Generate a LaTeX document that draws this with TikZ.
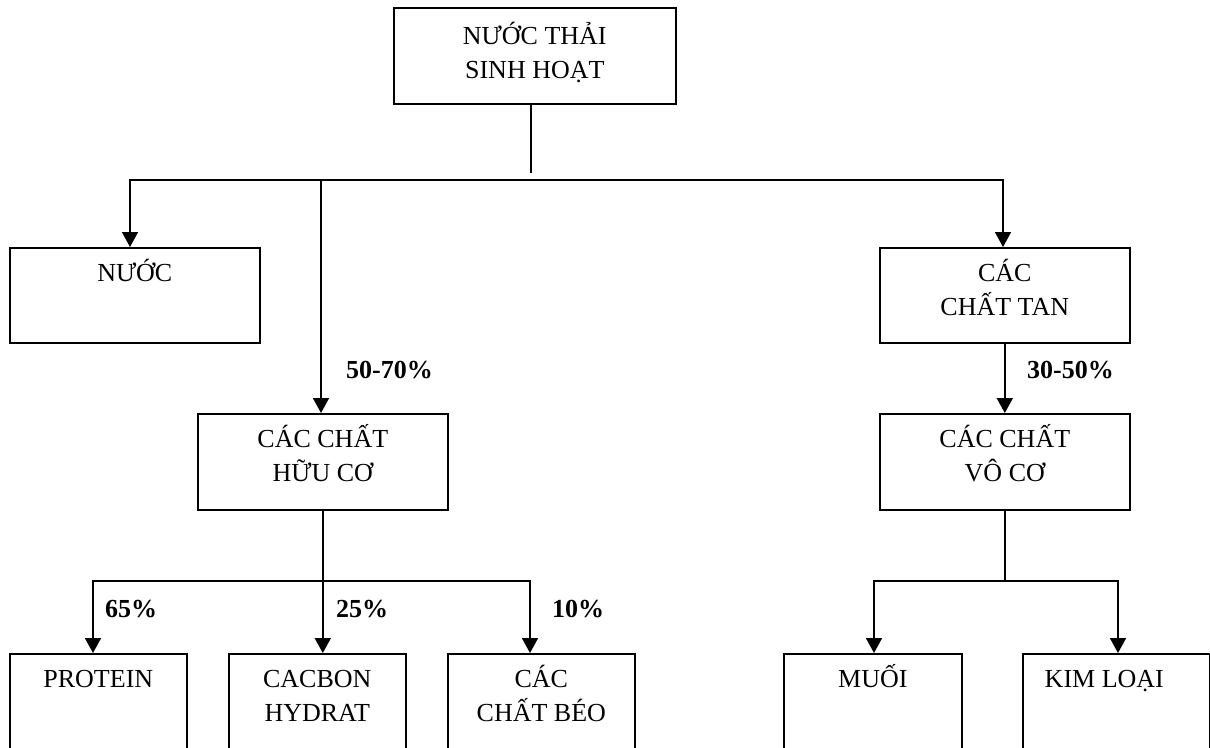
\documentclass[tikz,border=0pt]{standalone}
\usepackage{fontspec}
\setmainfont{Liberation Serif}
\usetikzlibrary{arrows.meta}
% invisible rule that fixes the height of a first text line
\newcommand\capstrut{\rule{0pt}{26pt}}
\begin{document}
\begin{tikzpicture}[x=1pt,y=-1pt,
  box/.style={draw, line width=1.6pt, anchor=north west, inner sep=0pt},
  txt/.style={anchor=north, inner sep=0pt, align=center,
    font=\fontsize{26}{34}\selectfont},
  pct/.style={anchor=base west, inner sep=0pt,
    font=\fontsize{26}{31}\selectfont\bfseries},
  link/.style={line width=1.8pt},
  tip/.style={Triangle[width=16pt,length=15pt]},
  arr/.style={line width=1.8pt, -{Triangle[width=16pt,length=15pt]}},
  arrs/.style={line width=1.8pt, {Triangle[width=16pt,length=15pt]}-{Triangle[width=16pt,length=15pt]}},
]
\useasboundingbox (0,0) rectangle (1210,747);
\clip (0,0) rectangle (1210,747);

% boxes
\node[box, minimum width=282pt, minimum height=96pt] (top) at (393,7) {};
\node[box, minimum width=250pt, minimum height=95pt] (nuoc) at (9,247) {};
\node[box, minimum width=250pt, minimum height=95pt] (tan) at (879,247) {};
\node[box, minimum width=250pt, minimum height=96pt] (huuco) at (197,413) {};
\node[box, minimum width=250pt, minimum height=96pt] (voco) at (879,413) {};
\node[box, minimum width=177pt, minimum height=120pt] (protein) at (9,653) {};
\node[box, minimum width=177pt, minimum height=120pt] (cacbon) at (228,653) {};
\node[box, minimum width=187pt, minimum height=120pt] (beo) at (447,653) {};
\node[box, minimum width=178pt, minimum height=120pt] (muoi) at (783,653) {};
\node[box, minimum width=187pt, minimum height=120pt] (kimloai) at (1022,653) {};

% box texts
\node[txt] (ttop) at ([yshift=-11pt]top.north) {\capstrut NƯỚC THẢI\\SINH HOẠT};
\node[txt] (tnuoc) at ([yshift=-8.5pt]nuoc.north) {\capstrut NƯỚC};
\node[txt] (ttan) at ([yshift=-8.5pt]tan.north) {\capstrut CÁC\\CHẤT TAN};
\node[txt] (thuuco) at ([yshift=-8.5pt]huuco.north) {\capstrut CÁC CHẤT\\HỮU CƠ};
\node[txt] (tvoco) at ([yshift=-8.5pt]voco.north) {\capstrut CÁC CHẤT\\VÔ CƠ};
\node[txt] (tprotein) at ([yshift=-8.5pt]protein.north) {\capstrut PROTEIN};
\node[txt] (tcacbon) at ([yshift=-8.5pt]cacbon.north) {\capstrut CACBON\\HYDRAT};
\node[txt] (tbeo) at ([yshift=-8.5pt]beo.north) {\capstrut CÁC\\CHẤT BÉO};
\node[txt] (tmuoi) at ([yshift=-8.5pt]muoi.north) {\capstrut MUỐI};
\node[txt] (tkimloai) at ([xshift=-12pt,yshift=-8.5pt]kimloai.north) {\capstrut KIM LOẠI};

% percentage labels
\node[pct] (p1) at (346,378) {50-70\%};
\node[pct] (p2) at (1027,378) {30-50\%};
\node[pct] (p3) at (105,617) {65\%};
\node[pct] (p4) at (336,617) {25\%};
\node[pct] (p5) at (552,617) {10\%};

% first level split
\coordinate (drop) at (531,173);
\coordinate (busL) at (130,180);
\coordinate (busR) at (1003,180);
\coordinate (busM) at (321,180);
\draw[link] (top.south -| drop) -- (drop);
\draw[arrs] (busL |- nuoc.north) -- (busL) -- (busR) -- (busR |- tan.north);
\draw[arr] (busM) -- (busM |- huuco.north);
\draw[arr] (tan.south) -- (voco.north);

% organic branch
\coordinate (oL) at (93,581);
\coordinate (oR) at (530,581);
\draw[arr] (huuco.south) -- (huuco.south |- cacbon.north);
\draw[arrs] (oL |- protein.north) -- (oL) -- (oR) -- (oR |- beo.north);

% inorganic branch
\coordinate (iL) at (874,581);
\coordinate (iR) at (1118,581);
\draw[link] (voco.south) -- (voco.south |- iL);
\draw[arrs] (iL |- muoi.north) -- (iL) -- (iR) -- (iR |- kimloai.north);
\end{tikzpicture}
\end{document}
